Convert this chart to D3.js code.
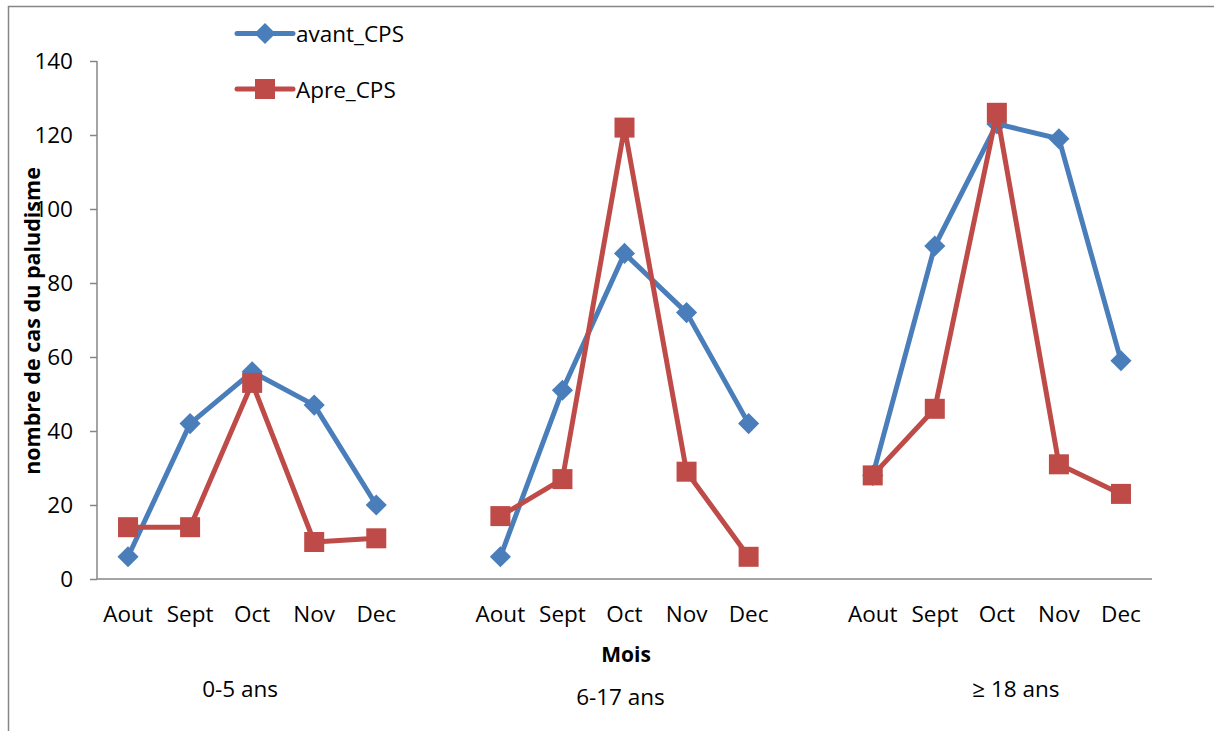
<!DOCTYPE html>
<html>
<head>
<meta charset="utf-8">
<script src="https://cdn.jsdelivr.net/npm/d3@7"></script>
<style>
  html, body { margin: 0; padding: 0; background: #fff; }
  svg { display: block; font-family: "Open Sans", sans-serif; }
</style>
</head>
<body>
<div id="chart"></div>
<script>
// data
const groups = ['0-5 ans', '6-17 ans', '\u2265 18 ans']
const months = ['Aout', 'Sept', 'Oct', 'Nov', 'Dec']
const avant_CPS = [
  [6, 42, 56, 47, 20],
  [6, 51, 88, 72, 42],
  [28, 90, 123, 119, 59]
]
const apre_CPS = [
  [14, 14, 53, 10, 11],
  [17, 27, 122, 29, 6],
  [28, 46, 126, 31, 23]
]
const yTicks = [0, 20, 40, 60, 80, 100, 120, 140]
const seriesNames = ['avant_CPS', 'Apre_CPS']

const W = 1214, H = 731
const AXIS = '#868686'
const BLUE = '#4a7ebb', RED = '#be4b48'
const LW = 5, SQ = 20

let svg = d3.select('#chart').append('svg')
  .attr('width', W).attr('height', H)

// outer frame (only left and top visible)
svg.append('path')
  .attr('d', `M8.5,${H} V6.5 H${W}`)
  .attr('fill', 'none').attr('stroke', AXIS).attr('stroke-width', 1.5)

const plot = { left: 97, right: 1152, top: 61, bottom: 579 }

// 17 slots: 5 months per group with a blank slot between groups
let slots = []
groups.forEach((g, gi) => {
  months.forEach(m => slots.push(g + '|' + m))
  if (gi < groups.length - 1) slots.push('gap' + gi)
})

let x = d3.scaleBand().domain(slots).range([plot.left, plot.right]).padding(0)
let y = d3.scaleLinear().domain([0, 140]).range([plot.bottom, plot.top])
let cx = key => x(key) + x.bandwidth() / 2

// y axis
let yAxis = svg.append('g').attr('transform', `translate(${plot.left},0)`)
  .call(d3.axisLeft(y).tickValues(yTicks).tickSize(7).tickPadding(17))
yAxis.select('.domain').attr('stroke', AXIS).attr('stroke-width', 1.5)
  .attr('d', `M0,${plot.top}V${plot.bottom}`)
yAxis.selectAll('.tick line').attr('stroke', AXIS).attr('stroke-width', 1.5)
yAxis.selectAll('.tick text').attr('fill', '#000')
  .style('font-size', '22.5px').style('font-family', '"Open Sans", sans-serif')

// x axis line
svg.append('line')
  .attr('x1', plot.left).attr('x2', plot.right)
  .attr('y1', plot.bottom).attr('y2', plot.bottom)
  .attr('stroke', AXIS).attr('stroke-width', 1.5)

// month labels
let monthLabels = svg.append('g')
groups.forEach(g => {
  months.forEach(m => {
    monthLabels.append('text')
      .attr('x', cx(g + '|' + m))
      .attr('y', 622)
      .attr('text-anchor', 'middle')
      .style('font-size', '22.5px')
      .text(m)
  })
})

// group labels
const groupDx = [-12, -4, 19]
const groupY = [697, 705, 697]
groups.forEach((g, gi) => {
  let mid = (cx(g + '|' + months[0]) + cx(g + '|' + months[months.length - 1])) / 2
  svg.append('text')
    .attr('x', mid + groupDx[gi]).attr('y', groupY[gi])
    .attr('text-anchor', 'middle')
    .style('font-size', '22.5px')
    .text(g)
})

// axis titles
svg.append('text')
  .attr('x', 626).attr('y', 662)
  .attr('text-anchor', 'middle')
  .style('font-size', '21px').style('font-weight', 'bold')
  .text('Mois')

svg.append('text')
  .attr('transform', 'translate(40,321) rotate(-90)')
  .attr('text-anchor', 'middle')
  .style('font-size', '21.5px').style('font-weight', 'bold')
  .text('nombre de cas du paludisme')

// series
let line = d3.line().x(d => d.x).y(d => d.y)
let diamond = d3.symbol().type(d3.symbolDiamond2).size(285)

function seriesPoints(values) {
  return groups.map((g, gi) => months.map((m, mi) => ({
    x: cx(g + '|' + m), y: y(values[gi][mi])
  })))
}

function drawSeries(values, color, marker) {
  let segs = seriesPoints(values)
  let gSeries = svg.append('g')
  gSeries.selectAll('path.seg')
    .data(segs).enter().append('path')
    .attr('class', 'seg')
    .attr('d', line)
    .attr('fill', 'none').attr('stroke', color)
    .attr('stroke-width', LW).attr('stroke-linejoin', 'round')
  let pts = segs.flat()
  if (marker == 'diamond') {
    gSeries.selectAll('path.mk').data(pts).enter().append('path')
      .attr('class', 'mk')
      .attr('d', diamond)
      .attr('transform', d => `translate(${d.x},${d.y})`)
      .attr('fill', color)
  } else {
    gSeries.selectAll('rect.mk').data(pts).enter().append('rect')
      .attr('class', 'mk')
      .attr('x', d => d.x - SQ / 2).attr('y', d => d.y - SQ / 2)
      .attr('width', SQ).attr('height', SQ)
      .attr('fill', color)
  }
}

drawSeries(avant_CPS, BLUE, 'diamond')
drawSeries(apre_CPS, RED, 'square')

// legend
const legendY = [33.5, 89]
let legend = svg.append('g')
seriesNames.forEach((name, i) => {
  let color = i == 0 ? BLUE : RED
  let ly = legendY[i]
  legend.append('line')
    .attr('x1', 237).attr('x2', 293).attr('y1', ly).attr('y2', ly)
    .attr('stroke', color).attr('stroke-width', LW).attr('stroke-linecap', 'round')
  if (i == 0) {
    legend.append('path').attr('d', diamond)
      .attr('transform', `translate(265,${ly})`).attr('fill', color)
  } else {
    legend.append('rect')
      .attr('x', 265 - SQ / 2).attr('y', ly - SQ / 2).attr('width', SQ).attr('height', SQ)
      .attr('fill', color)
  }
  legend.append('text')
    .attr('x', 296).attr('y', ly + 8.5)
    .style('font-size', '22.5px')
    .text(name)
})
</script>
</body>
</html>
